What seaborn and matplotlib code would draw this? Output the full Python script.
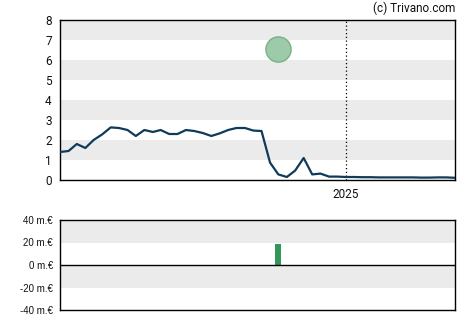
import numpy as np
import pandas as pd
import matplotlib
matplotlib.use("Agg")
import matplotlib.pyplot as plt
import matplotlib.dates as mdates
import seaborn as sns

# ---- data ----
start_month = "2022-03-01"
prices = [1.40, 1.45, 1.80, 1.60, 2.00, 2.28, 2.63, 2.60, 2.50, 2.20,
          2.50, 2.40, 2.50, 2.30, 2.30, 2.50, 2.45, 2.35, 2.20, 2.33,
          2.50, 2.60, 2.60, 2.47, 2.45, 0.87, 0.28, 0.15, 0.47, 1.10,
          0.28, 0.32, 0.17, 0.17, 0.15, 0.15, 0.14, 0.14, 0.13, 0.13,
          0.13, 0.13, 0.13, 0.12, 0.12, 0.13, 0.13, 0.11]
event_date = ["2024-05-01"]
event_price = [6.55]
flow_date = ["2024-05-01"]
flow_value = [18.5]  # m.€
year_mark = "2025-01-01"
year_label = "2025"
top_yticks = [0, 1, 2, 3, 4, 5, 6, 7, 8]
bottom_yticks = [-40, -20, 0, 20, 40]
bottom_ylabels = ["-40 m.€", "-20 m.€", "0 m.€", "20 m.€", "40 m.€"]

dates = pd.date_range(start_month, periods=len(prices), freq="MS")
df = pd.DataFrame({"date": dates, "price": prices})
ev = pd.DataFrame({"date": pd.to_datetime(event_date), "price": event_price})

sns.set_style("white")
plt.rcParams["font.family"] = ["Roboto", "DejaVu Sans"]

fig = plt.figure(figsize=(4.7, 3.25), dpi=100)
ax = fig.add_axes([60/470, 1-180/325, 395/470, 160/325])
ax2 = fig.add_axes([60/470, 1-310/325, 395/470, 90/325])

xmin, xmax = dates[0], dates[-1]

# top chart
for lo in [1, 3, 5, 7]:
    ax.axhspan(lo, lo + 1, color="#ebebeb", lw=0, zorder=0)
sns.lineplot(data=df, x="date", y="price", ax=ax, color="#0f3a5a", lw=1.6, zorder=3)
sns.scatterplot(data=ev, x="date", y="price", ax=ax, s=330, color="#93c6a0",
                edgecolor="#6fae7d", linewidth=1, alpha=0.9, zorder=4, legend=False)
ymark = pd.Timestamp(year_mark)
ax.axvline(ymark, color="black", lw=0.9, ls=(0, (1, 2)), zorder=2)
ax.set_xlim(xmin, xmax)
ax.set_ylim(0, 8)
ax.set_yticks(top_yticks)
ax.set_yticklabels([str(v) for v in top_yticks], fontsize=8.5, color="#111111")
ax.set_xticks([ymark])
ax.set_xticklabels([year_label], fontsize=8.5, color="#111111")
ax.set_xlabel("")
ax.set_ylabel("")
ax.tick_params(axis="both", length=4, width=1, color="black", pad=2, direction="out")
for s in ax.spines.values():
    s.set_visible(True)
    s.set_color("black")
    s.set_linewidth(1)
ax.grid(False)

fig.text(455/470, 1-8/325, "(c) Trivano.com", ha="right", va="center",
         fontsize=8.5, color="#111111")

# bottom chart
ax2.axhspan(20, 40, color="#ebebeb", lw=0, zorder=0)
ax2.axhspan(-20, 0, color="#ebebeb", lw=0, zorder=0)
ax2.bar(pd.to_datetime(flow_date), flow_value, width=23, color="#339659",
        linewidth=0, zorder=3)
ax2.axhline(0, color="black", lw=1, zorder=4)
ax2.set_xlim(xmin, xmax)
ax2.set_ylim(-40, 40)
ax2.set_yticks(bottom_yticks)
ax2.set_yticklabels(bottom_ylabels, fontsize=7, color="#111111",
                    family=["Liberation Sans", "DejaVu Sans"])
ax2.set_xticks([])
ax2.tick_params(axis="y", length=4, width=1, color="black", pad=1)
for s in ax2.spines.values():
    s.set_visible(True)
    s.set_color("black")
    s.set_linewidth(1)
ax2.grid(False)

fig.savefig("out.png", dpi=100)
